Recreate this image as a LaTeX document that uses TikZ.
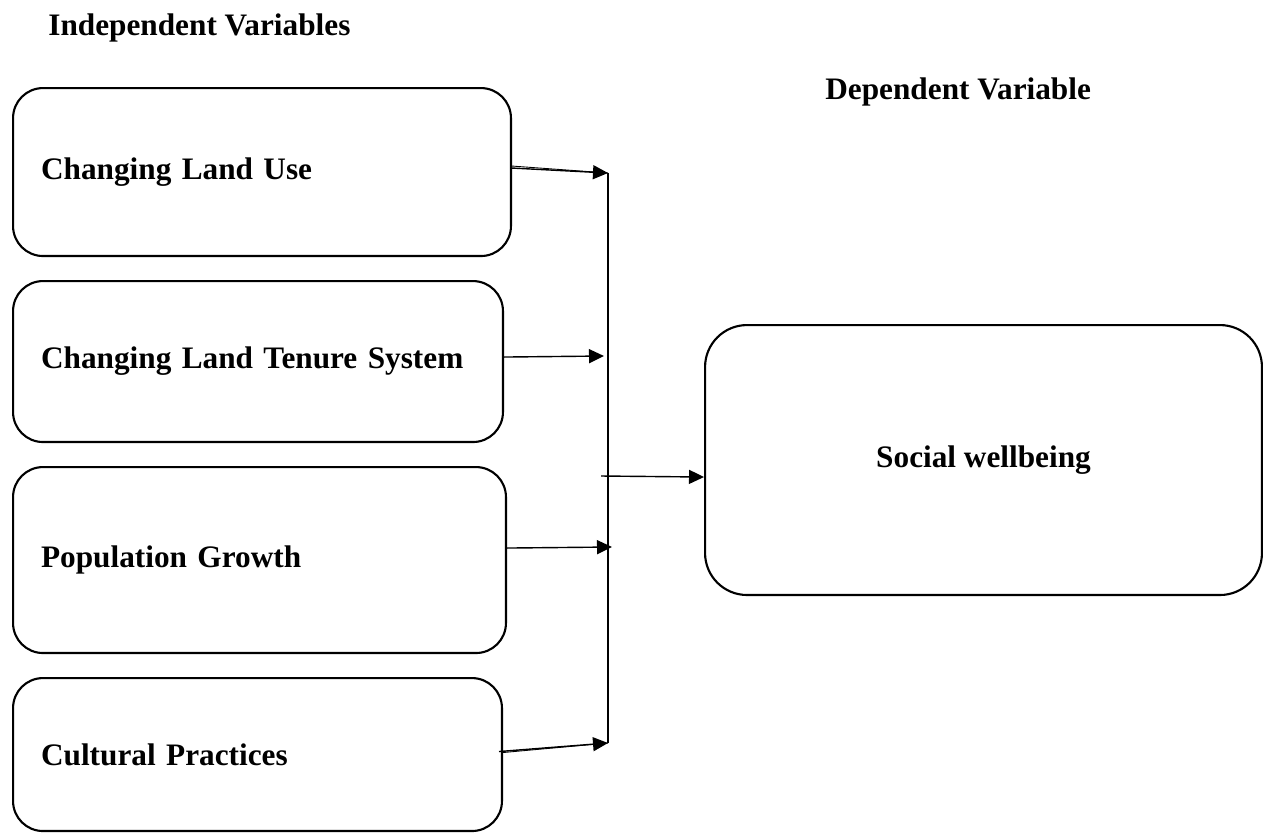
\documentclass[tikz,border=0pt]{standalone}
\usepackage{fontspec}
\setmainfont{Liberation Serif}
\usetikzlibrary{arrows.meta}
\begin{document}
\begin{tikzpicture}[x=0.02cm,y=-0.02cm,
	varbox/.style={draw,line width=1.2pt,rounded corners=0.6cm,anchor=north west,inner xsep=0.56cm,inner ysep=0pt,font=\bfseries\fontsize{17.8}{21.6}\selectfont,align=left},
	resbox/.style={draw,line width=1.2pt,rounded corners=0.84cm,anchor=north west,inner sep=0pt,font=\bfseries\fontsize{17.8}{21.6}\selectfont,align=center},
	lbl/.style={anchor=base west,inner sep=0pt,font=\bfseries\fontsize{17.8}{21.6}\selectfont},
	link/.style={line width=0.8pt,-{Triangle[length=0.3cm,width=0.28cm]}}]
		\useasboundingbox (0,0) rectangle (1263,832);
		\node[lbl] (ind) at (48,35) {Independent Variables};
		\node[lbl] (dep) at (825,99) {Dependent Variable};
		\node[varbox,text width=8.84cm,minimum height=3.36cm] (b1) at (12,87) {Changing Land Use};
		\node[varbox,text width=8.68cm,minimum height=3.22cm] (b2) at (12,280) {Changing Land Tenure System};
		\node[varbox,text width=8.74cm,minimum height=3.72cm] (b3) at (12,466) {Population Growth};
		\node[varbox,text width=8.66cm,minimum height=3.06cm] (b4) at (12,677) {Cultural Practices};
		\node[resbox,minimum width=11.14cm,minimum height=5.4cm] (sw) at (704,324) {Social wellbeing};
		\coordinate (j1) at (608,173);
		\coordinate (j2) at (604,356);
		\coordinate (j3) at (612,547);
		\coordinate (j4) at (608,743);
		\coordinate (jc) at (601,476);
		\draw [line width=0.7pt] (j1) -- (j4);
		\draw [line width=0.5pt] ([yshift=0.12cm]b1.east) -- (j1);
		\draw [link] ([yshift=0.08cm]b1.east) -- (j1);
		\draw [link] ([yshift=0.09cm]b2.east) -- (j2);
		\draw [link] ([yshift=0.24cm]b3.east) -- (j3);
		\draw [line width=0.5pt] ([yshift=0.04cm]b4.east) -- (j4);
		\draw [link] ([xshift=-0.08cm,yshift=0.06cm]b4.east) -- (j4);
		\draw [link] (jc) -- ([yshift=-0.34cm]sw.west);
\end{tikzpicture}
\end{document}
